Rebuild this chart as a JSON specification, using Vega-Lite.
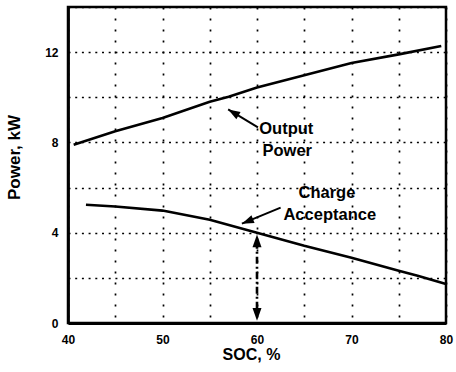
{
  "$schema": "https://vega.github.io/schema/vega-lite/v6.json",
  "width": 378,
  "height": 316,
  "autosize": "none",
  "padding": {"left": 68, "top": 7, "right": 10, "bottom": 49},
  "background": "white",
  "view": {"stroke": "#000000", "strokeWidth": 2.5, "strokeOpacity": 1},
  "config": {
    "view": {"stroke": "#000000", "strokeWidth": 2.5, "strokeOpacity": 1},
    "font": "Liberation Sans",
    "axis": {
      "domainColor": "black",
      "domainWidth": 2.8,
      "grid": true,
      "gridColor": "black",
      "gridWidth": 1.7,
      "ticks": false,
      "tickSize": 0,
      "labelFont": "Liberation Sans",
      "labelFontWeight": "bold",
      "labelFontSize": 12,
      "labelColor": "black",
      "labelOverlap": false,
      "labelFlush": false,
      "titleFont": "Liberation Sans",
      "titleFontWeight": "bold",
      "titleColor": "black"
    }
  },
  "datasets": {
    "curves": [
      {"series": "Output Power", "soc": 40.6, "kw": 7.9},
      {"series": "Output Power", "soc": 45, "kw": 8.5},
      {"series": "Output Power", "soc": 50, "kw": 9.08},
      {"series": "Output Power", "soc": 55, "kw": 9.8},
      {"series": "Output Power", "soc": 57, "kw": 10.02},
      {"series": "Output Power", "soc": 60, "kw": 10.43},
      {"series": "Output Power", "soc": 65, "kw": 10.98},
      {"series": "Output Power", "soc": 70, "kw": 11.52},
      {"series": "Output Power", "soc": 75, "kw": 11.9},
      {"series": "Output Power", "soc": 79.5, "kw": 12.27},
      {"series": "Charge Acceptance", "soc": 41.9, "kw": 5.24},
      {"series": "Charge Acceptance", "soc": 45, "kw": 5.16},
      {"series": "Charge Acceptance", "soc": 50, "kw": 4.98},
      {"series": "Charge Acceptance", "soc": 55, "kw": 4.57},
      {"series": "Charge Acceptance", "soc": 60, "kw": 4.0},
      {"series": "Charge Acceptance", "soc": 65, "kw": 3.42},
      {"series": "Charge Acceptance", "soc": 70, "kw": 2.89},
      {"series": "Charge Acceptance", "soc": 75, "kw": 2.31},
      {"series": "Charge Acceptance", "soc": 77, "kw": 2.09},
      {"series": "Charge Acceptance", "soc": 80, "kw": 1.73}
    ],
    "pointers": [
      {"soc": 60.1, "kw": 8.67, "soc2": 56.95, "kw2": 9.46},
      {"soc": 62.5, "kw": 5.11, "soc2": 58.4, "kw2": 4.4}
    ],
    "marker": [
      {"soc": 60, "kw": 3.6, "soc2": 60, "kw2": 0.45}
    ],
    "labels": [
      {"soc": 63.1, "kw": 8.6, "label": "Output"},
      {"soc": 63.2, "kw": 7.62, "label": "Power"},
      {"soc": 67.4, "kw": 5.75, "label": "Charge"},
      {"soc": 67.7, "kw": 4.8, "label": "Acceptance"}
    ]
  },
  "encoding": {
    "x": {
      "field": "soc",
      "type": "quantitative",
      "scale": {"domain": [40, 80], "nice": false, "zero": false},
      "axis": {
        "values": [40, 45, 50, 55, 60, 65, 70, 75, 80],
        "labelExpr": "datum.value % 10 === 0 ? datum.label : ''",
        "gridDash": [2, 9],
        "labelPadding": 16,
        "labelBaseline": "middle",
        "title": "SOC, %",
        "titleFontSize": 16,
        "titleX": 183,
        "titleY": 31,
        "titleBaseline": "middle"
      }
    },
    "y": {
      "field": "kw",
      "type": "quantitative",
      "scale": {"domain": [0, 14], "nice": false},
      "axis": {
        "values": [0, 2, 4, 6, 8, 10, 12, 14],
        "labelExpr": "datum.value % 4 === 0 ? datum.label : ''",
        "gridDash": [2, 4.7],
        "labelPadding": 10,
        "labelAlign": "right",
        "labelBaseline": "middle",
        "title": "Power, kW",
        "titleFontSize": 17,
        "titleX": -54,
        "titleY": 150,
        "titleBaseline": "middle"
      }
    }
  },
  "layer": [
    {
      "data": {"name": "curves"},
      "mark": {"type": "line", "color": "black", "strokeWidth": 2.6},
      "encoding": {"detail": {"field": "series", "type": "nominal"}}
    },
    {
      "data": {"name": "pointers"},
      "mark": {"type": "rule", "color": "black", "strokeWidth": 2},
      "encoding": {
        "x2": {"field": "soc2"},
        "y2": {"field": "kw2"}
      }
    },
    {
      "data": {"name": "marker"},
      "mark": {"type": "rule", "color": "black", "strokeWidth": 2.6, "strokeDash": [7, 3, 2, 3]},
      "encoding": {
        "x2": {"field": "soc2"},
        "y2": {"field": "kw2"}
      }
    },
    {
      "data": {"values": [{"soc": 56.95, "kw": 9.46}]},
      "mark": {"type": "point", "shape": "M0,0 L-0.55,1.6 L0.55,1.6 Z", "size": 225, "filled": true, "color": "black", "opacity": 1, "angle": 301},
      "encoding": {}
    },
    {
      "data": {"values": [{"soc": 58.4, "kw": 4.4}]},
      "mark": {"type": "point", "shape": "M0,0 L-0.55,1.6 L0.55,1.6 Z", "size": 225, "filled": true, "color": "black", "opacity": 1, "angle": 248},
      "encoding": {}
    },
    {
      "data": {"values": [{"soc": 60, "kw": 3.92}]},
      "mark": {"type": "point", "shape": "M0,0 L-0.6,1.7 L0.6,1.7 Z", "size": 225, "filled": true, "color": "black", "opacity": 1, "angle": 0},
      "encoding": {}
    },
    {
      "data": {"values": [{"soc": 60, "kw": 0.1}]},
      "mark": {"type": "point", "shape": "M0,0 L-0.6,1.7 L0.6,1.7 Z", "size": 225, "filled": true, "color": "black", "opacity": 1, "angle": 180},
      "encoding": {}
    },
    {
      "data": {"name": "labels"},
      "mark": {"type": "text", "font": "Liberation Sans", "fontWeight": "bold", "fontSize": 16.5, "color": "black", "align": "center", "baseline": "middle"},
      "encoding": {"text": {"field": "label"}}
    }
  ]
}
